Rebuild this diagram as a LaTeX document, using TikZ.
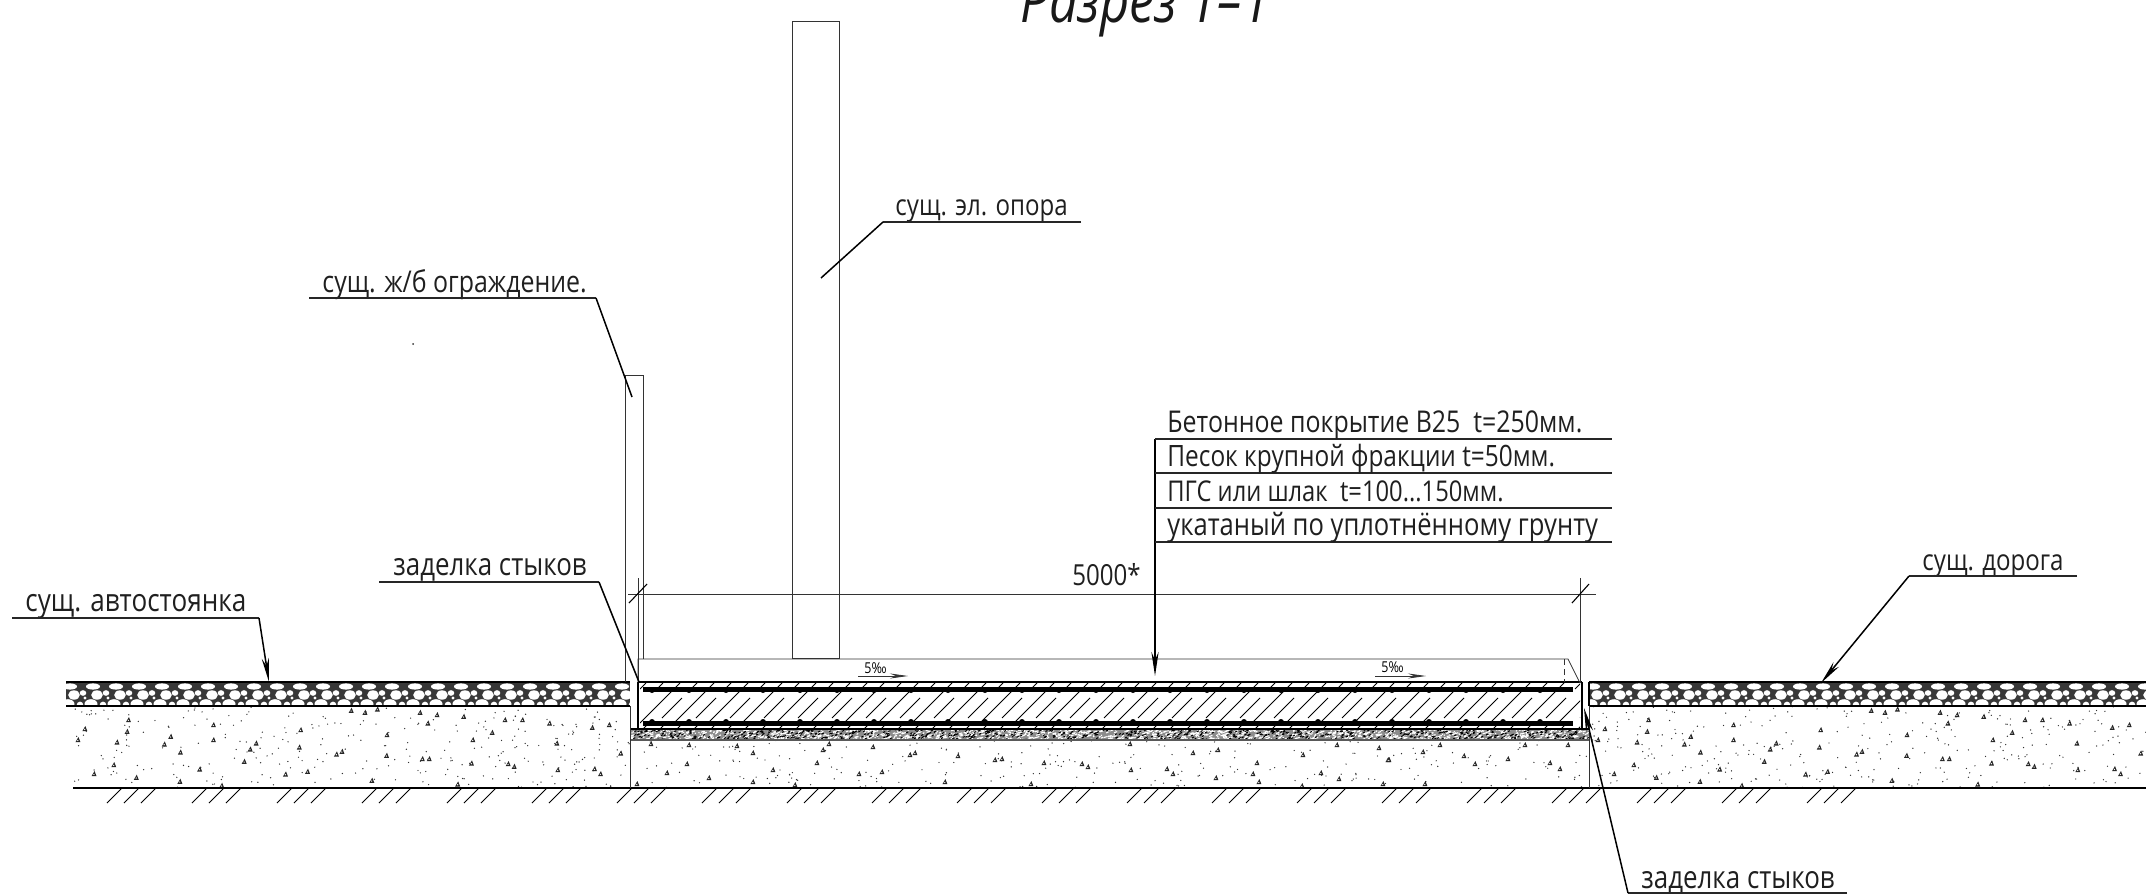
\documentclass[tikz,border=0pt]{standalone}
\usepackage{fontspec}
\setmainfont[FakeStretch=0.83]{Open Sans}
\usetikzlibrary{arrows.meta}
\tikzset{
  x=0.5pt,y=-0.5pt,
  thinln/.style={line width=0.4pt,black!80},
  medln/.style={line width=0.55pt,black},
  leader/.style={line width=0.75pt,black},
  shelf/.style={line width=0.8pt,black!85},
  hardln/.style={line width=1.15pt,black},
  rebar/.style={line width=2.5pt,black},
  hatchln/.style={line width=0.5pt,black},
  arrowed/.style={-{Stealth[length=12pt,width=3.6pt]}},
  lbl/.style={inner sep=0pt,anchor=base west,text=black!88,font=\fontsize{15}{18}\selectfont},
  ttl/.style={inner sep=0pt,anchor=base west,text=black!90,font=\fontsize{30.5}{34}\selectfont\itshape},
  slope/.style={inner sep=0pt,anchor=base west,text=black,font=\fontsize{7.5}{9}\selectfont}
}
\newcommand\fs[1]{\fontsize{#1}{18}\selectfont}
\newcommand\soilmark[2]{\fill[black!85] (#1-2.6,#2+2.2) -- (#1+0.4,#2-3) -- (#1+2.4,#2+2.2) -- cycle;\fill[white] (#1-0.2,#2+0.4) circle[radius=0.7];}
\newcommand\gravelband[2]{%
  \fill[black!78] (#1,682) rectangle (#2,706);
  \begin{scope}
    \clip (#1,682) rectangle (#2,706);
    \foreach \k in {0,...,27}{
      \pgfmathsetmacro\xa{#1+\k*23}
      \fill[white] (\xa+4,686.5) ellipse[x radius=7,y radius=3.1];
      \fill[white] (\xa+8,695) ellipse[x radius=5.8,y radius=4.7];
      \fill[white] (\xa-6,693) ellipse[x radius=3.3,y radius=2.8];
      \fill[white] (\xa+2,704) ellipse[x radius=6.5,y radius=4.8];
      \fill[white] (\xa+14,705) ellipse[x radius=3.3,y radius=3.4];
      \fill[white] (\xa+19,698) circle[radius=1.6];
    }
  \end{scope}
  \draw[hardln] (#1,682) -- (#2,682);
  \draw[medln] (#1,706) -- (#2,706);
}
\begin{document}
\begin{tikzpicture}
\useasboundingbox (0,0) rectangle (2146,894);
\pgfmathsetseed{4711}

% soil stipple
\foreach \xl/\xr/\yt/\n in {73/630/706/300,630/1589/740/260,1589/2146/706/300}{
  \begin{scope}
    \clip (\xl,\yt) rectangle (\xr,788);
    \foreach \i in {1,...,\n}{
      \pgfmathsetmacro\px{\xl+rnd*(\xr-\xl)}
      \pgfmathsetmacro\py{\yt+rnd*(788-\yt)}
      \fill[black!80] (\px,\py) circle[radius=0.7];
    }
  \end{scope}
}
% soil marks, left and its repeat on the right
\foreach \a/\b in {765/512,795/518,822/508,915/518,952/525,1010/530,932/550,1100/540,1138/540,1197/550,1290/563,1327/555,280/540,185/567,277/575,465/555,655/570,372/590,255/607,170/600,465/600,358/613,558/610,1072/578,843/585,1030/600,1213/610,393/637,545/628,652/622,745/635,733/643,842/647,1352/640,920/657,935/657,248/675,532/665,1027/670,1107/672,1120/680,1215/690,1295/687,1308/702,435/688,670/695,622/703,205/702,297/713,392/725,810/722,483/737,997/733}{
  \pgfmathsetmacro\mx{\a/2.178}
  \pgfmathsetmacro\my{540+\b/3}
  \soilmark{\mx}{\my}
  \pgfmathsetmacro\mr{\mx+1520}
  \soilmark{\mr}{\my}
}
% soil marks, centre
\foreach \mx/\my in {651/744,689/745,737/746,753/753,829/744,823/750,873/747,915/753,910/755,958/756,995/760,1002/759,1044/763,817/763,687/764,773/770,667/773,709/778,753/782,795/785,882/772,859/774,945/782,1031/784,637/784,1130/744,1193/753,1218/750,1303/755,1337/745,1379/748,1388/760,1082/764,1088/767,1131/770,1167/769,1173/774,1257/763,1253/774,1216/778,1259/782,1321/773,1339/779,1302/786,1383/784,1440/745,1525/745,1568/745,1423/752,1464/756,1389/760,1508/759,1475/764,1550/763,1560/769,1425/784}{
  \soilmark{\mx}{\my}
}

% gravel
\gravelband{66}{630}
\gravelband{1589}{2146}

% ground line and hatching
\draw[medln] (73,788) -- (2146,788);
\foreach \k in {0,...,20}{
  \pgfmathsetmacro\gx{107+85*\k}
  \foreach \s in {0,17,34}{
    \draw[hatchln] (\gx+\s,803) -- (\gx+\s+15,788);
  }
}

% sand strip
\fill[black!45] (630,730) rectangle (1590,740);
\begin{scope}
  \clip (630,730) rectangle (1590,740);
  \foreach \i in {1,...,1500}{
    \pgfmathsetmacro\px{630+rnd*960}
    \pgfmathsetmacro\py{730+rnd*10}
    \pgfmathsetmacro\pd{rnd*4-2}
    \draw[line width=0.55pt,white] (\px,\py) -- ++(\pd+2,-1);
  }
  \foreach \i in {1,...,700}{
    \pgfmathsetmacro\px{630+rnd*960}
    \pgfmathsetmacro\py{730+rnd*10}
    \draw[line width=0.5pt,black] (\px,\py) -- ++(2,-1);
  }
\end{scope}
\draw[medln] (630,729) -- (1590,729);
\draw[line width=0.6pt,black!65] (630,740) -- (1590,740);

% slab hatching
\begin{scope}
  \clip (640,683) rectangle (1580,729);
  \foreach \k in {0,...,28}{
    \pgfmathsetmacro\hx{640+34*\k}
    \draw[hatchln] (\hx,723) -- (\hx+34,689);
    \draw[hatchln] (\hx+22,718) -- (\hx+42,698);
  }
  \foreach \k in {0,...,56}{
    \pgfmathsetmacro\hx{640+17*\k}
    \draw[hatchln] (\hx,689) -- (\hx+6,683);
    \draw[hatchln] (\hx+3,729) -- (\hx+9,723);
  }
\end{scope}
\draw[rebar] (643,689) -- (1573,689);
\draw[rebar] (643,723) -- (1573,723);
\foreach \k in {0,...,24}{
  \pgfmathsetmacro\rx{652+37*\k}
  \fill (\rx,690) circle[radius=3];
  \fill (\rx,722) circle[radius=3];
}

% slab outline
\coordinate (slabTL) at (638,682);
\coordinate (slabTR) at (1582,682);
\coordinate (slabBL) at (638,729);
\coordinate (slabBR) at (1582,729);
\draw[medln] (slabTL) -- (slabTR);
\draw[hardln] (slabTL) -- (slabBL);
\draw[medln] (slabTR) -- (slabBR);
\draw[thinln] (630,706) -- (630,788);
\draw[medln] (1589,682) -- (1589,706);
\draw[thinln] (1589,706) -- (1589,788);

% pavement above slab
\coordinate (pavA) at (638,659);
\coordinate (pavB) at (1568,659);
\coordinate (pavC) at (1580,683);
\draw[thinln] (slabTL) -- (pavA) -- (pavB) -- (pavC);
\draw[thinln,densely dashed] (1564,659) -- (1564,682);

% pole
\node[draw=black!80,line width=0.45pt,fill=white,inner sep=0pt,minimum width=23.5pt,minimum height=318.5pt,anchor=north west] (pole) at (792,21) {};
% fence
\coordinate (fenceTL) at (625,375);
\coordinate (fenceTR) at (643,375);
\coordinate (fenceBL) at (625,682);
\coordinate (fenceBR) at (643,659);
\draw[thinln] (fenceBL) -- (fenceTL) -- (fenceTR) -- (fenceBR);

% dimension
\coordinate (dimL) at (628,594);
\coordinate (dimR) at (1596,594);
\draw[thinln] (dimL) -- (dimR);
\draw[thinln] (638,578) -- (slabTL);
\draw[thinln] (1580,578) -- (pavC);
\draw[medln] (629,603) -- (647,584);
\draw[medln] (1572,603) -- (1589,584);
\node[lbl,anchor=base east] (dimtext) at (1141,585) {\fs{14.5}5000*};

% slope marks
\node[slope] (slopeA) at (864,673) {5‰};
\node[slope] (slopeB) at (1381,672) {5‰};
\coordinate (slA0) at (858,676);
\coordinate (slA1) at (908,676);
\coordinate (slB0) at (1375,676);
\coordinate (slB1) at (1426,676);
\draw[thinln,-{Stealth[length=9pt,width=2.5pt]}] (slA0) -- (slA1);
\draw[thinln,-{Stealth[length=9pt,width=2.5pt]}] (slB0) -- (slB1);

% layer callout
\coordinate (layerTop) at (1155,439);
\coordinate (layerTip) at (1155,676);
\draw[leader,arrowed] (layerTop) -- (layerTip);
\foreach \yy in {439,473,508,542}{
  \draw[shelf] (1155,\yy) -- (1612,\yy);
}
\node[lbl] (lay1) at (1167,432) {Бетонное покрытие В25\ \ t=250мм.};
\node[lbl] (lay2) at (1167,466) {\fs{14.7}Песок крупной фракции t=50мм.};
\node[lbl] (lay3) at (1167,501) {\fs{14.3}ПГС или шлак\ \ t=100...150мм.};
\node[lbl] (lay4) at (1167,535) {\fs{15.4}укатаный по уплотнённому грунту};

% leaders
\node[lbl] (lblPole) at (895,215) {\fs{14.5}сущ. эл. опора};
\coordinate (poleS0) at (1081,222);
\coordinate (poleS1) at (883,222);
\coordinate (poleT) at (821,278);
\draw[shelf] (poleS0) -- (poleS1);
\draw[leader] (poleS1) -- (poleT);

\node[lbl] (lblFence) at (322,292) {сущ. ж/б ограждение.};
\coordinate (fenS0) at (309,298);
\coordinate (fenS1) at (596,298);
\coordinate (fenT) at (632,397);
\draw[shelf] (fenS0) -- (fenS1);
\draw[leader] (fenS1) -- (fenT);

\node[lbl] (lblPark) at (25,611) {\fs{15.7}сущ. автостоянка};
\coordinate (parS0) at (12,618);
\coordinate (parS1) at (259,618);
\coordinate (parT) at (269,682);
\draw[shelf] (parS0) -- (parS1);
\draw[leader,arrowed] (parS1) -- (parT);

\node[lbl] (lblJointA) at (393,575) {\fs{15.6}заделка стыков};
\coordinate (jaS0) at (379,582);
\coordinate (jaS1) at (599,582);
\coordinate (jaT) at (639,682);
\draw[shelf] (jaS0) -- (jaS1);
\draw[leader] (jaS1) -- (jaT);

\node[lbl] (lblRoad) at (1922,570) {\fs{14.5}сущ. дорога};
\coordinate (rdS0) at (2077,576);
\coordinate (rdS1) at (1909,576);
\coordinate (rdT) at (1821,683);
\draw[shelf] (rdS0) -- (rdS1);
\draw[leader,arrowed] (rdS1) -- (rdT);

\node[lbl] (lblJointB) at (1641,888) {\fs{15.6}заделка стыков};
\coordinate (jbS0) at (1847,893);
\coordinate (jbS1) at (1628,893);
\coordinate (jbT) at (1584,708);
\draw[shelf] (jbS0) -- (jbS1);
\draw[leader,arrowed] (jbS1) -- (jbT);

% title
\node[ttl] (title) at (1020,22) {Разрез 1--1};
\fill[black!80] (413,344) circle[radius=1];
\end{tikzpicture}
\end{document}
